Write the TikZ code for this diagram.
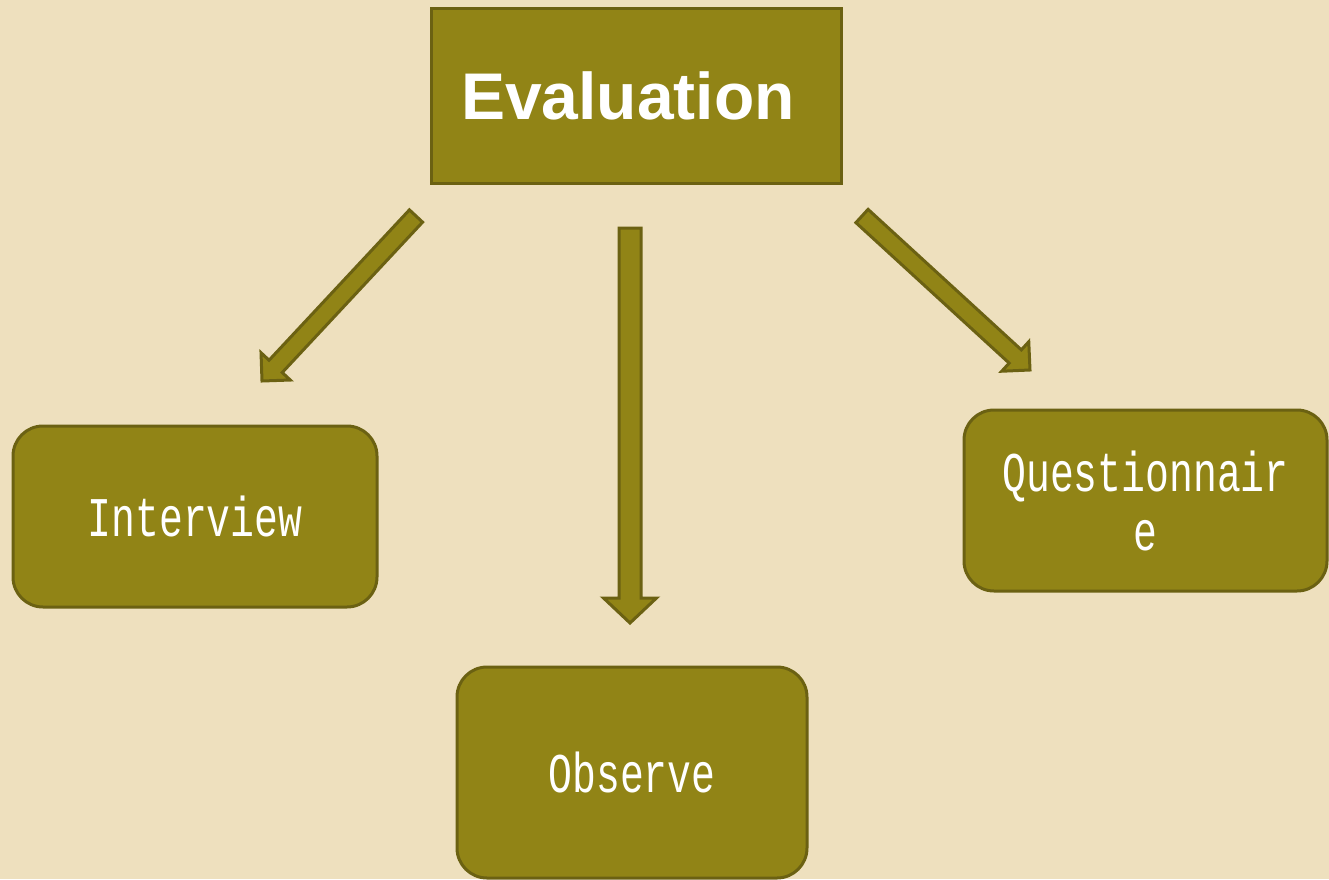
\documentclass[tikz,border=0pt]{standalone}
\usepackage{fontspec}
\usepackage{tikz}
\usetikzlibrary{calc,positioning}
\newfontfamily\headfont{Liberation Sans}
\newfontfamily\boxfont[FakeStretch=0.71]{Liberation Mono}
\definecolor{paper}{RGB}{238,224,190}
\definecolor{olive}{RGB}{145,132,22}
\definecolor{olivedark}{RGB}{107,97,18}
\newcommand{\arrshaft}{4.5pt}
\newcommand{\arrhead}{10pt}
\newcommand{\arrheadl}{10pt}
\tikzset{
  topbox/.style={draw=olivedark, fill=olive, line width=1.5pt, text=white, align=center,
    minimum width=205pt, minimum height=87.5pt, font=\headfont\bfseries\fontsize{33pt}{38pt}\selectfont},
  methodbox/.style={draw=olivedark, fill=olive, line width=1.5pt, rounded corners=15pt, text=white, align=center,
    font=\boxfont\fontsize{28pt}{29.5pt}\selectfont},
  shaft/.store in=\arrshaft,
  head/.store in=\arrhead,
  headlen/.store in=\arrheadl,
  fatarrow/.style={fill=olive, draw=olivedark, line width=1.5pt, line join=miter,
    to path={let \p1=($(\tikztotarget)-(\tikztostart)$), \n1={atan2(\y1,\x1)} in
      ($(\tikztostart)+(\n1+90:\arrshaft)$)
      -- ($(\tikztotarget)+(\n1:-\arrheadl)+(\n1+90:\arrshaft)$)
      -- ($(\tikztotarget)+(\n1:-\arrheadl)+(\n1+90:\arrhead)$)
      -- (\tikztotarget)
      -- ($(\tikztotarget)+(\n1:-\arrheadl)+(\n1-90:\arrhead)$)
      -- ($(\tikztotarget)+(\n1:-\arrheadl)+(\n1-90:\arrshaft)$)
      -- ($(\tikztostart)+(\n1-90:\arrshaft)$) -- cycle}}
}
\begin{document}
\begin{tikzpicture}[x=0.5pt, y=-0.5pt]
    % Background
    \fill[paper] (0,0) rectangle (1329,879);
    \useasboundingbox (0,0) rectangle (1329,879);

    % Nodes
    \node[topbox] (eval) at (636,95.5) {\hspace*{-8pt}Evaluation};
    \node[methodbox, minimum width=182pt, minimum height=90.5pt] (interview) at (195,516.5) {Interview};
    \node[methodbox, minimum width=181.5pt, minimum height=90.5pt] (quest) at (1145.5,500.5) {Questionnair\\e};
    \node[methodbox, minimum width=175pt, minimum height=105.5pt] (observe) at (632,772.5) {Observe};

    % Arrow ends
    \coordinate (lstart) at (416,216);
    \coordinate (ltip) at (262,381);
    \coordinate (mstart) at (630,228);
    \coordinate (mtip) at (630,623);
    \coordinate (rstart) at (862,216);
    \coordinate (rtip) at (1030,370);

    % Arrows
    \draw[fatarrow] (lstart) to (ltip);
    \draw[fatarrow, shaft=5.5pt, head=13.25pt, headlen=12.5pt] (mstart) to (mtip);
    \draw[fatarrow] (rstart) to (rtip);
\end{tikzpicture}
\end{document}
